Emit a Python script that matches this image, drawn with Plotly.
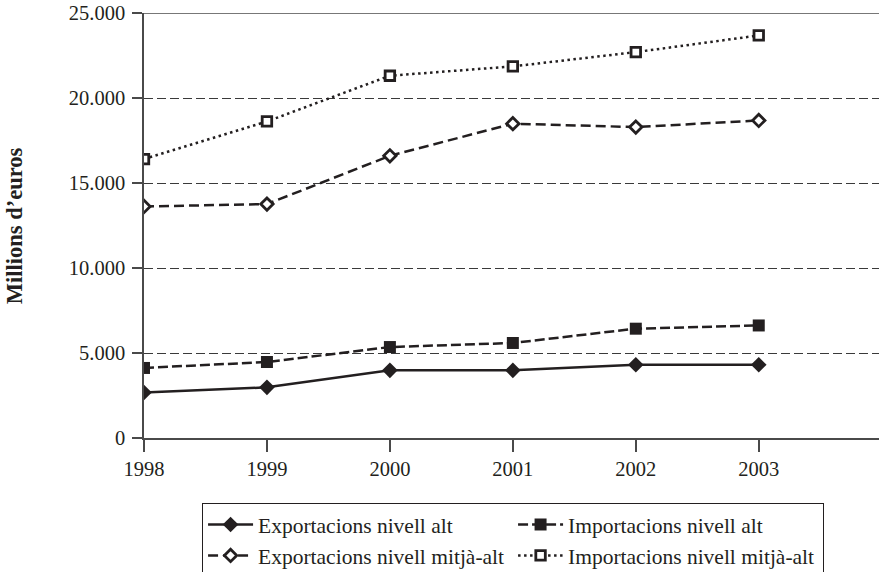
import plotly.graph_objects as go

# Annual trade values, millions of euros
years = [1998, 1999, 2000, 2001, 2002, 2003]
exp_alt = [2680, 2980, 3980, 3980, 4310, 4310]
imp_alt = [4120, 4470, 5350, 5590, 6430, 6620]
exp_mitja = [13620, 13760, 16600, 18490, 18290, 18680]
imp_mitja = [16410, 18620, 21310, 21860, 22700, 23680]

y_ticks = [0, 5000, 10000, 15000, 20000, 25000]
y_tick_text = ["0", "5.000", "10.000", "15.000", "20.000", "25.000"]

INK = "#231f20"
AXIS = "#4a4a4a"
FONT = "Liberation Serif"

fig = go.Figure()

fig.add_trace(go.Scatter(
    x=years, y=exp_alt, name="Exportacions nivell alt", mode="lines+markers",
    line=dict(color=INK, width=2.5),
    marker=dict(symbol="diamond", size=12, color=INK, line=dict(width=0)),
))
fig.add_trace(go.Scatter(
    x=years, y=imp_alt, name="Importacions nivell alt", mode="lines+markers",
    line=dict(color=INK, width=2.5, dash="10px,4px"),
    marker=dict(symbol="square", size=12, color=INK, line=dict(width=0)),
))
fig.add_trace(go.Scatter(
    x=years, y=exp_mitja, name="Exportacions nivell mitjà-alt", mode="lines+markers",
    line=dict(color=INK, width=2.5, dash="10px,5px"),
    marker=dict(symbol="diamond", size=9.5, color="white", line=dict(color=INK, width=2.8)),
))
fig.add_trace(go.Scatter(
    x=years, y=imp_mitja, name="Importacions nivell mitjà-alt", mode="lines+markers",
    line=dict(color=INK, width=2.5, dash="2.5px,3.5px"),
    marker=dict(symbol="square", size=9.5, color="white", line=dict(color=INK, width=2.8)),
))

# solid top edge of the plot area at the maximum of the scale
fig.add_shape(type="line", xref="paper", yref="y", x0=0, x1=1, y0=25000, y1=25000,
              line=dict(color=AXIS, width=1.5), layer="above")

fig.add_annotation(
    text="<b>Millions d’euros</b>", textangle=-90, showarrow=False,
    xref="paper", yref="paper", x=-0.176, y=0.5, xanchor="center", yanchor="middle",
    font=dict(family=FONT, size=22.5, color=INK),
)

fig.update_layout(
    width=879, height=572,
    margin=dict(l=144, r=0, t=13, b=134, autoexpand=False),
    paper_bgcolor="white", plot_bgcolor="white",
    font=dict(family=FONT, size=20.5, color=INK),
    showlegend=True,
    legend=dict(
        orientation="h", x=0.079, xanchor="left",
        yref="container", y=0.1206, yanchor="top",
        bordercolor=INK, borderwidth=1, bgcolor="white",
        font=dict(family=FONT, size=21.5, color=INK),
        entrywidth=250, tracegroupgap=0, itemwidth=45,
    ),
    xaxis=dict(
        range=[1998, 2003.978], tickmode="array", tickvals=years,
        ticktext=[str(y) for y in years],
        showgrid=False, zeroline=False, automargin=False,
        showline=True, linecolor=AXIS, linewidth=1.5,
        ticks="outside", ticklen=12, tickcolor=AXIS, tickwidth=1.5,
        tickfont=dict(family=FONT, size=20.5, color=INK),
    ),
    yaxis=dict(
        range=[0, 25000], tickmode="array", tickvals=y_ticks, ticktext=y_tick_text,
        showgrid=True, gridcolor="#3a3a3a", gridwidth=1, griddash="9px,4px",
        zeroline=False, automargin=False,
        showline=True, linecolor=AXIS, linewidth=1.5,
        ticks="outside", ticklen=10, tickcolor=AXIS, tickwidth=1.5,
        ticklabelstandoff=3,
        tickfont=dict(family=FONT, size=20.5, color=INK),
    ),
)

fig.write_html("out.html")
